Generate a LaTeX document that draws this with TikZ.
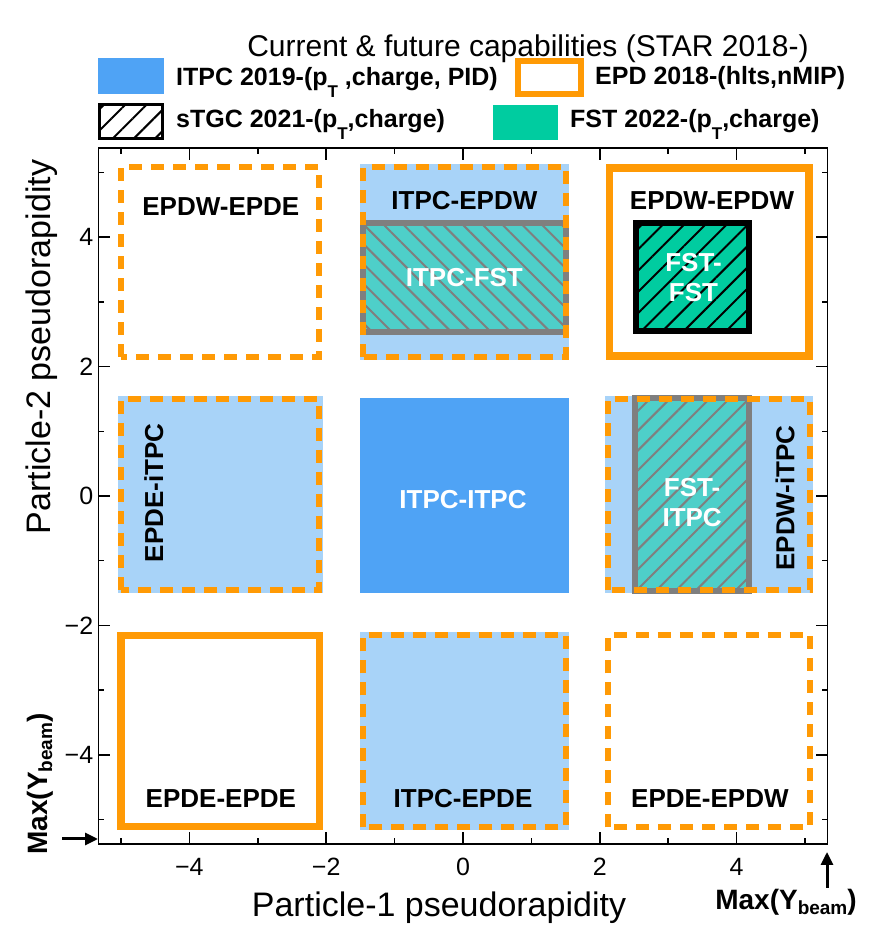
\documentclass[tikz,border=0pt]{standalone}
\usepackage{fontspec}
\setmainfont{Liberation Sans}
\usetikzlibrary{patterns.meta,arrows.meta}
\definecolor{itpcBlue}{HTML}{4FA3F5}
\definecolor{lightBlue}{HTML}{A8D3F8}
\definecolor{epdOrange}{HTML}{FF9A05}
\definecolor{fstGreen}{HTML}{00CCA0}
\definecolor{fstTeal}{HTML}{4ECFC9}
\definecolor{hatchGray}{HTML}{7F7F7F}
\newcommand{\pT}{p\raisebox{-12pt}{\fontsize{17}{17}\selectfont T}}
\newcommand{\ybeam}{Y\raisebox{-5pt}{\fontsize{19}{19}\selectfont beam}}

\begin{document}
\begin{tikzpicture}[x=1pt,y=1pt,
  titleText/.style={font=\fontsize{30}{36}\selectfont, inner sep=0pt},
  legendText/.style={font=\fontsize{25}{30}\selectfont\bfseries, inner sep=0pt, anchor=base west},
  axisTitle/.style={font=\fontsize{34}{40}\selectfont, inner sep=0pt},
  tickLabel/.style={font=\fontsize{25}{30}\selectfont, inner sep=0pt},
  maxLabel/.style={font=\fontsize{28}{32}\selectfont\bfseries, inner sep=0pt},
  boxLabel/.style={font=\fontsize{26}{30}\selectfont\bfseries, inner sep=0pt},
  whiteLabel/.style={boxLabel, text=white, align=center},
  epdSolid/.style={draw=epdOrange, line width=7.5pt},
  epdDashed/.style={draw=epdOrange, line width=6pt, dash pattern=on 13pt off 9pt},
  fstHatch/.style={preaction={fill=fstGreen}, pattern={Lines[angle=45,distance=15pt,line width=2pt]}, pattern color=black, draw=black, line width=6pt},
  tealHatch/.style={preaction={fill=fstTeal}, pattern={Lines[angle=#1,distance=14pt,line width=2pt]}, pattern color=hatchGray, draw=hatchGray, line width=6pt},
  beamArrow/.style={line width=3pt, -{Triangle[length=13pt,width=12pt]}}]
\useasboundingbox (0,0) rectangle (879,930);

% title and legend
\node[titleText, anchor=base] (title) at (528,873) {Current \& future capabilities (STAR 2018-)};
\fill[itpcBlue] (98,836) rectangle (164,872);
\node[legendText] (legItpc) at (176,844) {ITPC 2019-(\pT\ ,charge, PID)};
\draw[epdOrange, line width=6pt] (518,836) rectangle (581,869);
\node[legendText] (legEpd) at (595,845) {EPD 2018-(hlts,nMIP)};
\draw[black, line width=3pt, pattern={Lines[angle=45,distance=15pt,line width=2pt]}] (99.5,791.5) rectangle (162.5,825.5);
\node[legendText] (legStgc) at (176,802) {sTGC 2021-(\pT,charge)};
\fill[fstGreen] (493,790) rectangle (558,825);
\node[legendText] (legFst) at (570,802) {FST 2022-(\pT,charge)};

\begin{scope}[shift={(463pt,434pt)}, x=68.4pt, y=64.7pt]
  % top row
  \draw[epdDashed] (-5.0,2.15) rectangle (-2.1,5.08);
  \fill[lightBlue] (-1.5,2.1) rectangle (1.55,5.13);
  \draw[tealHatch=-45] (-1.46,2.53) rectangle (1.5,4.22);
  \draw[epdDashed] (-1.46,2.15) rectangle (1.5,5.08);
  \draw[epdSolid] (2.14,2.16) rectangle (5.06,5.07);
  \draw[fstHatch] (2.53,2.55) rectangle (4.18,4.22);
  % middle row
  \fill[lightBlue] (-5.05,-1.5) rectangle (-2.05,1.55);
  \draw[epdDashed] (-5.0,-1.45) rectangle (-2.1,1.5);
  \fill[itpcBlue] (-1.5,-1.5) rectangle (1.55,1.52);
  \fill[lightBlue] (2.08,-1.5) rectangle (5.12,1.55);
  \draw[tealHatch=45] (2.52,-1.47) rectangle (4.18,1.52);
  \draw[epdDashed] (2.12,-1.45) rectangle (5.08,1.5);
  % bottom row
  \draw[epdSolid] (-5.0,-5.11) rectangle (-2.1,-2.16);
  \fill[lightBlue] (-1.5,-5.17) rectangle (1.55,-2.1);
  \draw[epdDashed] (-1.46,-5.12) rectangle (1.5,-2.15);
  \draw[epdDashed] (2.12,-5.12) rectangle (5.08,-2.15);

  \node[boxLabel] (epdwEpde) at (-3.54,4.47) {EPDW-EPDE};
  \node[boxLabel] (itpcEpdw) at (0.02,4.57) {ITPC-EPDW};
  \node[whiteLabel] (itpcFst) at (0.02,3.37) {ITPC-FST};
  \node[boxLabel] (epdwEpdw) at (3.64,4.56) {EPDW-EPDW};
  \node[whiteLabel] (fstFst) at (3.37,3.37) {FST-\\FST};
  \node[boxLabel, rotate=90] (epdeItpc) at (-4.52,0.05) {EPDE-iTPC};
  \node[whiteLabel] (itpcItpc) at (0,-0.06) {ITPC-ITPC};
  \node[whiteLabel] (fstItpc) at (3.35,-0.1) {FST-\\ITPC};
  \node[boxLabel, rotate=90] (epdwItpc) at (4.71,-0.03) {EPDW-iTPC};
  \node[boxLabel] (epdeEpde) at (-3.54,-4.68) {EPDE-EPDE};
  \node[boxLabel] (itpcEpde) at (0,-4.68) {ITPC-EPDE};
  \node[boxLabel] (epdeEpdw) at (3.61,-4.68) {EPDE-EPDW};

  % frame and ticks
  \draw[line width=1.8pt] (-5.33,-5.38) rectangle (5.33,5.38);
  \foreach \t in {-4,-2,0,2,4} {
    \draw[line width=1.5pt] (\t,-5.38) -- ++(0,12pt) (\t,5.38) -- ++(0,-12pt);
    \draw[line width=1.5pt] (-5.33,\t) -- ++(12pt,0) (5.33,\t) -- ++(-12pt,0);
  }
  \foreach \t in {-5,-3,...,5} {
    \draw[line width=1.5pt] (\t,-5.38) -- ++(0,6pt) (\t,5.38) -- ++(0,-6pt);
    \draw[line width=1.5pt] (-5.33,\t) -- ++(6pt,0) (5.33,\t) -- ++(-6pt,0);
  }
  \foreach \t/\l in {-4/−4,-2/−2,0/0,2/2,4/4} {
    \node[tickLabel, anchor=base] (xTick\t) at (\t,-5.86) {\l};
    \node[tickLabel, anchor=east] (yTick\t) at ([xshift=-5pt]-5.33,\t) {\l};
  }
\end{scope}

% axis titles
\node[axisTitle, anchor=base] (xTitle) at (439,13) {Particle-1 pseudorapidity};
\node[axisTitle, rotate=90] (yTitle) at (42,583) {Particle-2 pseudorapidity};

% beam rapidity markers
\node[maxLabel] (maxBottom) at (786,28) {Max(\ybeam)};
\node[maxLabel, rotate=90] (maxLeft) at (40,146) {Max(\ybeam)};
\coordinate (leftArrowTail) at (62,91);
\coordinate (leftArrowHead) at (98,91);
\coordinate (bottomArrowTail) at (827,42);
\coordinate (bottomArrowHead) at (827,78);
\draw[beamArrow] (leftArrowTail) -- (leftArrowHead);
\draw[beamArrow] (bottomArrowTail) -- (bottomArrowHead);
\end{tikzpicture}
\end{document}
